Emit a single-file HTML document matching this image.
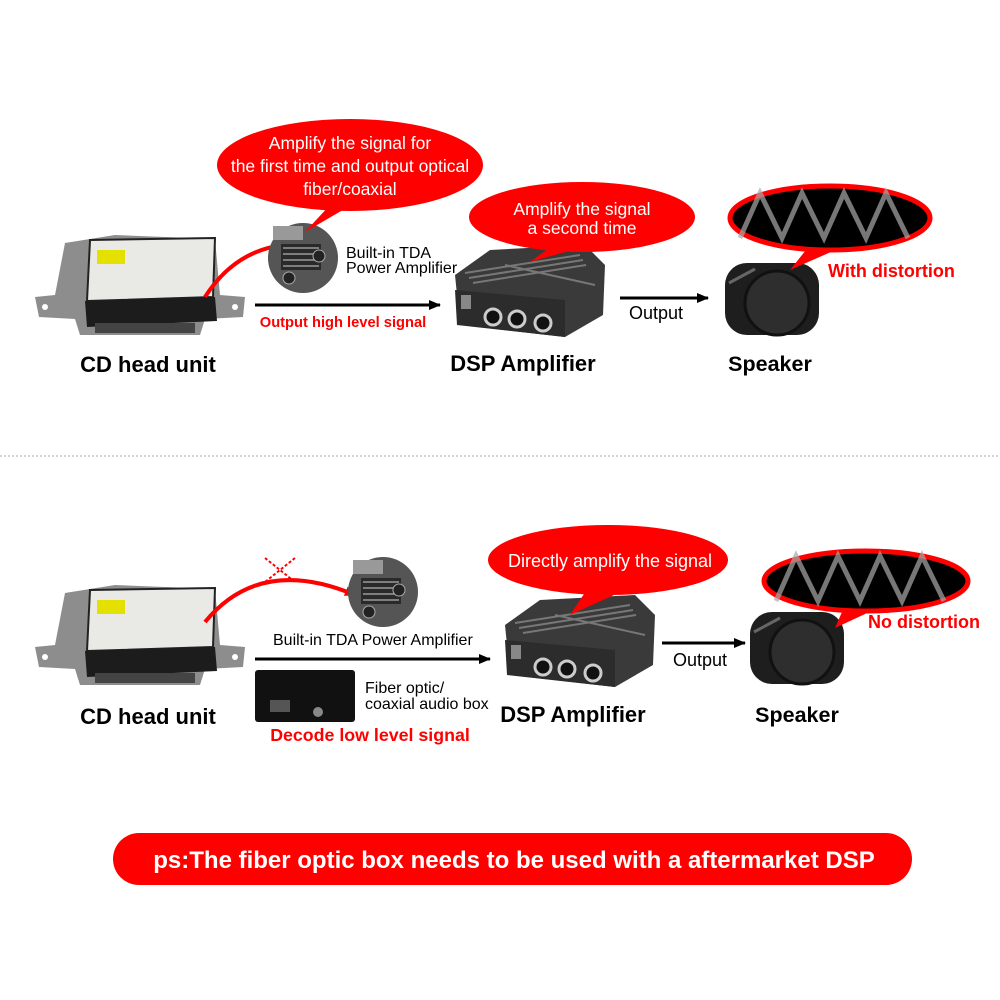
<!DOCTYPE html>
<html><head><meta charset="utf-8"><style>
html,body{margin:0;padding:0;background:#fff}
svg{display:block;font-family:"Liberation Sans",Arial,sans-serif}
</style></head><body>
<svg width="1000" height="1000" viewBox="0 0 1000 1000" xmlns="http://www.w3.org/2000/svg">
<defs>
<marker id="ah" markerWidth="12" markerHeight="10" refX="11" refY="5" orient="auto" markerUnits="userSpaceOnUse"><path d="M0,0 L12,5 L0,10 z" fill="#000"/></marker>
<marker id="rh" markerWidth="12" markerHeight="10" refX="10" refY="5" orient="auto" markerUnits="userSpaceOnUse"><path d="M0,0 L12,5 L0,10 z" fill="#f00"/></marker>
<g id="cd">
 <path d="M0,62 L20,60 L30,8 L80,0 L180,4 L185,60 L210,62 L208,82 L170,84 L165,100 L45,100 L40,84 L4,82 z" fill="#8d8d8d"/>
 <path d="M55,5 L180,3 L178,62 L52,66 z" fill="#e9e9e6" stroke="#222" stroke-width="2"/>
 <rect x="62" y="15" width="28" height="14" fill="#e4e000"/>
 <path d="M50,66 L180,62 L182,86 L52,92 z" fill="#1c1c1c"/>
 <rect x="60" y="88" width="100" height="10" fill="#444"/>
 <circle cx="10" cy="72" r="3" fill="#fff"/><circle cx="200" cy="72" r="3" fill="#fff"/>
</g>
<g id="tda">
 <circle cx="0" cy="0" r="35" fill="#555"/>
 <rect x="-22" y="-14" width="40" height="26" fill="#2a2a2a"/>
 <path d="M-20,-10 h36 M-20,-4 h36 M-20,2 h36 M-20,8 h36" stroke="#999" stroke-width="1.5"/>
 <circle cx="-14" cy="20" r="6" fill="#222" stroke="#aaa"/><circle cx="16" cy="-2" r="6" fill="#222" stroke="#aaa"/>
 <rect x="-30" y="-32" width="30" height="14" fill="#999"/>
</g>
<g id="amp">
 <path d="M10,30 L45,5 L140,0 L160,20 L158,70 L120,92 L15,80 z" fill="#3a3a3a"/>
 <path d="M20,28 L135,10 M24,33 L138,15 M28,38 L141,20 M60,20 L150,40" stroke="#777" stroke-width="2"/>
 <path d="M10,45 L120,55 L120,92 L12,80 z" fill="#2c2c2c"/>
 <rect x="16" y="50" width="10" height="14" fill="#888"/>
 <circle cx="48" cy="72" r="8" fill="#111" stroke="#ccc" stroke-width="3"/>
 <circle cx="72" cy="74" r="8" fill="#111" stroke="#ccc" stroke-width="3"/>
 <circle cx="98" cy="78" r="8" fill="#111" stroke="#ccc" stroke-width="3"/>
</g>
<g id="spk">
 <rect x="0" y="0" width="94" height="72" rx="22" fill="#1e1e1e"/>
 <circle cx="52" cy="40" r="32" fill="#2e2e2e" stroke="#111" stroke-width="3"/>
 <path d="M4,20 L30,6" stroke="#666" stroke-width="3"/>
</g>
<g id="wave">
 <path d="M-90,20 L-70,-25 L-48,20 L-28,-25 L-6,20 L14,-25 L36,20 L56,-25 L78,20" stroke="#aaa" stroke-width="5" fill="none" opacity="0.7"/>
</g>
</defs>

<!-- TOP -->
<use href="#cd" x="35" y="235"/>
<text x="148" y="372" font-size="22" font-weight="bold" text-anchor="middle">CD head unit</text>
<path d="M205,297 Q235,250 285,245" stroke="#f00" stroke-width="4" fill="none" marker-end="url(#rh)"/>
<use href="#tda" x="303" y="258"/>
<text x="346" y="258" font-size="16">Built-in TDA</text>
<text x="346" y="273" font-size="16">Power Amplifier</text>
<path d="M360,200 L305,232 L330,205 z" fill="#f00"/>
<ellipse cx="350" cy="165" rx="133" ry="46" fill="#f00"/>
<text x="350" y="149" font-size="17.5" fill="#fff" text-anchor="middle">Amplify the signal for</text>
<text x="350" y="172" font-size="17.5" fill="#fff" text-anchor="middle">the first time and output optical</text>
<text x="350" y="195" font-size="17.5" fill="#fff" text-anchor="middle">fiber/coaxial</text>
<line x1="255" y1="305" x2="440" y2="305" stroke="#000" stroke-width="3" marker-end="url(#ah)"/>
<text x="343" y="327" font-size="14.7" font-weight="bold" fill="#f00" text-anchor="middle">Output high level signal</text>
<use href="#amp" x="445" y="245"/>
<path d="M560,240 L530,262 L590,245 z" fill="#f00"/>
<ellipse cx="582" cy="217" rx="113" ry="35" fill="#f00"/>
<text x="582" y="215" font-size="17.5" fill="#fff" text-anchor="middle">Amplify the signal</text>
<text x="582" y="234" font-size="17.5" fill="#fff" text-anchor="middle">a second time</text>
<text x="523" y="371" font-size="22" font-weight="bold" text-anchor="middle">DSP Amplifier</text>
<line x1="620" y1="298" x2="708" y2="298" stroke="#000" stroke-width="3" marker-end="url(#ah)"/>
<text x="656" y="319" font-size="18" text-anchor="middle">Output</text>
<use href="#spk" x="725" y="263"/>
<path d="M810,245 L790,270 L840,248 z" fill="#f00"/>
<ellipse cx="830" cy="218" rx="100" ry="32" fill="#000" stroke="#f00" stroke-width="5"/>
<use href="#wave" x="830" y="218"/>
<text x="828" y="277" font-size="18" font-weight="bold" fill="#f00">With distortion</text>
<text x="770" y="371" font-size="21.5" font-weight="bold" text-anchor="middle">Speaker</text>

<line x1="0" y1="456" x2="1000" y2="456" stroke="#aaa" stroke-width="1" stroke-dasharray="2,2"/>

<!-- BOTTOM -->
<use href="#cd" x="35" y="585"/>
<text x="148" y="724" font-size="22" font-weight="bold" text-anchor="middle">CD head unit</text>
<path d="M205,622 Q260,555 355,595" stroke="#f00" stroke-width="4" fill="none" marker-end="url(#rh)"/>
<path d="M265,558 L295,582 M295,558 L265,582" stroke="#f00" stroke-width="2" stroke-dasharray="3,2"/>
<use href="#tda" x="383" y="592"/>
<text x="273" y="645" font-size="16">Built-in TDA Power Amplifier</text>
<line x1="255" y1="659" x2="490" y2="659" stroke="#000" stroke-width="3" marker-end="url(#ah)"/>
<rect x="255" y="670" width="100" height="52" rx="3" fill="#111"/>
<rect x="270" y="700" width="20" height="12" fill="#555"/>
<circle cx="318" cy="712" r="5" fill="#888"/>
<text x="365" y="693" font-size="16">Fiber optic/</text>
<text x="365" y="709" font-size="16">coaxial audio box</text>
<text x="370" y="741" font-size="17.8" font-weight="bold" fill="#f00" text-anchor="middle">Decode low level signal</text>
<use href="#amp" x="495" y="595"/>
<path d="M590,585 L570,615 L625,590 z" fill="#f00"/>
<ellipse cx="608" cy="560" rx="120" ry="35" fill="#f00"/>
<text x="610" y="567" font-size="18" fill="#fff" text-anchor="middle">Directly amplify the signal</text>
<text x="573" y="722" font-size="22" font-weight="bold" text-anchor="middle">DSP Amplifier</text>
<line x1="662" y1="643" x2="745" y2="643" stroke="#000" stroke-width="3" marker-end="url(#ah)"/>
<text x="700" y="666" font-size="18" text-anchor="middle">Output</text>
<use href="#spk" x="750" y="612"/>
<path d="M845,605 L835,628 L880,607 z" fill="#f00"/>
<ellipse cx="866" cy="581" rx="102" ry="30" fill="#000" stroke="#f00" stroke-width="5"/>
<use href="#wave" x="866" y="581"/>
<text x="868" y="628" font-size="18" font-weight="bold" fill="#f00">No distortion</text>
<text x="797" y="722" font-size="21.5" font-weight="bold" text-anchor="middle">Speaker</text>

<rect x="113" y="833" width="799" height="52" rx="26" fill="#f00"/>
<text x="514" y="868" font-size="24" font-weight="bold" fill="#fff" text-anchor="middle">ps:The fiber optic box needs to be used with a aftermarket DSP</text>
</svg>
</body></html>
